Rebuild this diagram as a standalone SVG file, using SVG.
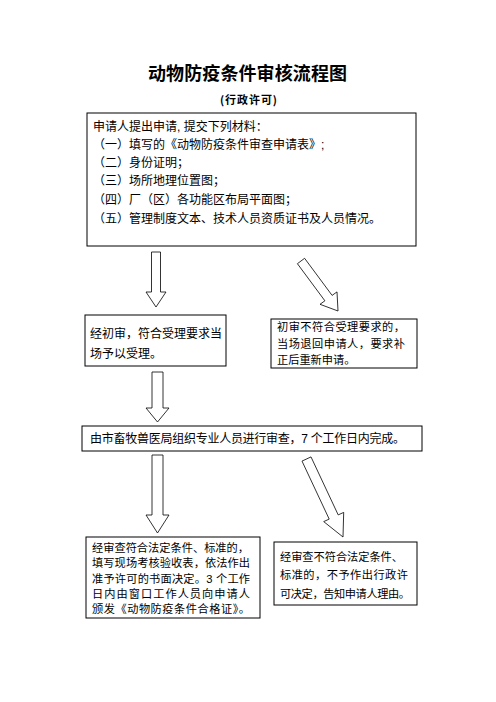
<svg xmlns="http://www.w3.org/2000/svg" width="496" height="702" viewBox="0 0 496 702">
<style>
.box{fill:#fff;stroke:#000;stroke-width:1}
.arr{fill:#fff;stroke:#000;stroke-width:0.8;stroke-linejoin:miter}
.t{font-family:"Liberation Sans","Noto Sans CJK SC",sans-serif;font-size:12px;fill:#000}
.s{font-family:"Liberation Sans","Noto Sans CJK SC",sans-serif;font-size:11.2px;fill:#000}
.title{font-family:"Noto Sans CJK SC",sans-serif;font-size:18px;font-weight:bold;fill:#000}
.sub{font-family:"Noto Sans CJK SC",sans-serif;font-size:11px;font-weight:bold;fill:#000}
</style>
<rect width="496" height="702" fill="#fff"/>
<text class="title" x="148" y="80" textLength="199" lengthAdjust="spacing">动物防疫条件审核流程图</text>
<text class="sub" x="220" y="104" textLength="57" lengthAdjust="spacing">(行政许可)</text>

<g id="node-apply">
<rect class="box" x="87" y="113" width="329" height="133"/>
<text class="t" x="93" y="131">申请人提出申请, 提交下列材料：</text>
<text class="t" x="93" y="149">（一）填写的《动物防疫条件审查申请表》;</text>
<text class="t" x="93" y="167">（二）身份证明；</text>
<text class="t" x="93" y="185">（三）场所地理位置图；</text>
<text class="t" x="93" y="203.5">（四）厂（区）各功能区布局平面图；</text>
<text class="t" x="93" y="222.5">（五）管理制度文本、技术人员资质证书及人员情况。</text>
</g>

<g id="node-accept">
<rect class="box" x="85" y="315" width="141" height="51"/>
<text class="t" x="90" y="337.5">经初审，符合受理要求当</text>
<text class="t" x="90" y="357.5">场予以受理。</text>
</g>

<g id="node-reject">
<rect class="box" x="271" y="319" width="146" height="49"/>
<text class="s" x="277" y="331" textLength="128" lengthAdjust="spacing">初审不符合受理要求的，</text>
<text class="s" x="277" y="348" textLength="128" lengthAdjust="spacing">当场退回申请人，要求补</text>
<text class="s" x="277" y="364">正后重新申请。</text>
</g>

<g id="node-review">
<rect class="box" x="82" y="426" width="340" height="25"/>
<text class="t" x="90" y="442.5" textLength="315" lengthAdjust="spacing">由市畜牧兽医局组织专业人员进行审查，7 个工作日内完成。</text>
</g>

<g id="node-approve">
<rect class="box" x="86" y="537" width="174" height="81"/>
<text class="s" x="92" y="551.5" textLength="157" lengthAdjust="spacing">经审查符合法定条件、标准的，</text>
<text class="s" x="92" y="567" textLength="158" lengthAdjust="spacing">填写现场考核验收表，依法作出</text>
<text class="s" x="92" y="582.5" textLength="158" lengthAdjust="spacing">准予许可的书面决定。3 个工作</text>
<text class="s" x="92" y="597.5" textLength="158" lengthAdjust="spacing">日内由窗口工作人员向申请人</text>
<text class="s" x="92" y="612.5" textLength="158" lengthAdjust="spacing">颁发《动物防疫条件合格证》。</text>
</g>

<g id="node-deny">
<rect class="box" x="274" y="542" width="143" height="63"/>
<text class="s" x="280" y="561" textLength="123" lengthAdjust="spacing">经审查不符合法定条件、</text>
<text class="s" x="280" y="579" textLength="128" lengthAdjust="spacing">标准的，不予作出行政许</text>
<text class="s" x="280" y="597.5" textLength="130" lengthAdjust="spacing">可决定，告知申请人理由。</text>
</g>

<g id="connectors">
<polygon class="arr" points="151.5,252 160.5,252 160.5,292 166,292 156,307 146,292 151.5,292"/>
<polygon class="arr" points="297.4,263.7 304.6,258.3 332.1,295.4 337,291.9 338,311 320,304.3 324.9,300.8"/>
<polygon class="arr" points="152,372 163,372 163,408 169,408 157.5,422 146,408 152,408"/>
<polygon class="arr" points="152,455 163,455 163,515 169,515 157.5,533 146,515 152,515"/>
<polygon class="arr" points="302,461.1 311,456.9 338.2,514.9 343.7,512.4 343,537 323.7,521.6 329.2,519.1"/>
</g>
</svg>
